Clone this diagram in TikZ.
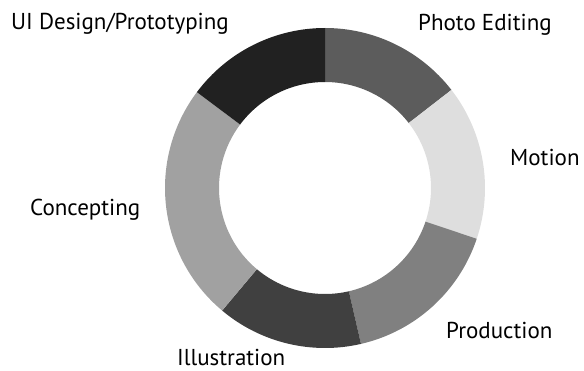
\documentclass[tikz,border=0pt]{standalone}
\usepackage{fontspec}
\setmainfont{PT Sans}
\usepackage{tikz}

\tikzset{
  label text/.style={anchor=base west, inner sep=0pt, font=\fontsize{23}{27}\selectfont}
}

\begin{document}
\begin{tikzpicture}[x=1pt,y=1pt]
\useasboundingbox (0,0) rectangle (584,370);

% Ring segments (outer radius 160, inner radius 106)
\begin{scope}[shift={(325,182)}]
\fill [color=black!64]
(90:160) arc (90:37.8:160) -- (37.8:106) arc (37.8:90:106) -- cycle; % Photo Editing
\fill [color=black!13]
(37.8:160) arc (37.8:-18.5:160) -- (-18.5:106) arc (-18.5:37.8:106) -- cycle; % Motion
\fill [color=black!50]
(-18.5:160) arc (-18.5:-77:160) -- (-77:106) arc (-77:-18.5:106) -- cycle; % Production
\fill [color=black!75]
(-77:160) arc (-77:-130:160) -- (-130:106) arc (-130:-77:106) -- cycle; % Illustration
\fill [color=black!37]
(-130:160) arc (-130:-216.8:160) -- (-216.8:106) arc (-216.8:-130:106) -- cycle; % Concepting
\fill [color=black!87]
(143.2:160) arc (143.2:90:160) -- (90:106) arc (90:143.2:106) -- cycle; % UI Design
\end{scope}

% Labels
\node[label text] (ui) at (11,340) {UI Design/Prototyping};
\node[label text] (photo) at (418,339.3) {Photo Editing};
\node[label text] (motion) at (510,204.3) {Motion};
\node[label text] (concept) at (30,154.3) {Concepting};
\node[label text] (prod) at (446,32) {Production};
\node[label text] (illu) at (177,4.3) {Illustration};

\end{tikzpicture}
\end{document}
